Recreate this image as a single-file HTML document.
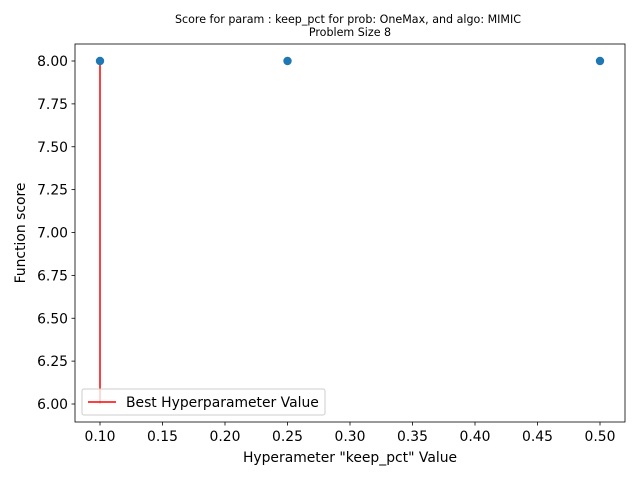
<!DOCTYPE html>
<html><head><meta charset="utf-8"><style>
body{margin:0;background:#fff;}
svg text{font-family:"DejaVu Sans","Liberation Sans",sans-serif;fill:#000;}
</style></head><body>
<svg width="640" height="480" xmlns="http://www.w3.org/2000/svg">
<g id="root"></g>
</svg>
<script>
const xValues=[0.10,0.25,0.50];
const yValues=[8,8,8];
const xTicks=[0.10,0.15,0.20,0.25,0.30,0.35,0.40,0.45,0.50];
const yTicks=[6.00,6.25,6.50,6.75,7.00,7.25,7.50,7.75,8.00];
const bestX=0.10, bestYmin=6, bestYmax=8;
const L=75,R=625,T=44,B=422;
const X=v=>100+(v-0.10)*1250;
const Y=v=>404-(v-6)*171.5;
const root=document.getElementById('root');
const NS='http://www.w3.org/2000/svg';
function mk(tag,attrs,parent){const e=document.createElementNS(NS,tag);for(const k in attrs)e.setAttribute(k,attrs[k]);(parent||root).appendChild(e);return e;}
xTicks.forEach(t=>{
 const g=mk('g',{});
 
 
 mk('line',{x1:X(t),x2:X(t),y1:B,y2:B+3.5,stroke:'#000','stroke-width':0.8},g);
 const tx=mk('text',{x:X(t),y:B+19,'text-anchor':'middle','font-size':13.9},g);tx.textContent=t.toFixed(2);
});
yTicks.forEach(t=>{
 const g=mk('g',{});
 
 
 mk('line',{x1:L-3.5,x2:L,y1:Y(t),y2:Y(t),stroke:'#000','stroke-width':0.8},g);
 const tx=mk('text',{x:L-7,y:Y(t)+5,'text-anchor':'end','font-size':13.9},g);tx.textContent=t.toFixed(2);
});
const bl=mk('line',{x1:X(bestX),x2:X(bestX),y1:Y(bestYmin),y2:Y(bestYmax),stroke:'red','stroke-width':1.5});


xValues.forEach((v,i)=>{
 const c=mk('circle',{cx:X(v),cy:Y(yValues[i]),r:4.2,fill:'#1f77b4'});
 
 
});
const fr=mk('rect',{x:L,y:T,width:R-L,height:B-T,fill:'none',stroke:'#000','stroke-width':0.8});


const lg=mk('g',{});


mk('rect',{x:82,y:389,width:243,height:26,rx:2,fill:'#fff','fill-opacity':0.8,stroke:'#ccc'},lg);
mk('line',{x1:88,x2:116,y1:402,y2:402,stroke:'red','stroke-width':1.5},lg);
const lt=mk('text',{x:126,y:407,'font-size':13.9},lg);lt.textContent='Best Hyperparameter Value';
const t1=mk('text',{x:348,y:23,'text-anchor':'middle','font-size':11.1});t1.textContent='Score for param : keep_pct for prob: OneMax, and algo: MIMIC';

const t2=mk('text',{x:350,y:36,'text-anchor':'middle','font-size':11.1});t2.textContent='Problem Size 8';

const xl=mk('text',{x:350,y:462,'text-anchor':'middle','font-size':13.9});xl.textContent='Hyperameter "keep_pct" Value';

const yl=mk('text',{x:0,y:0,'text-anchor':'middle','font-size':13.9,transform:'translate(25,233) rotate(-90)'});yl.textContent='Function score';

</script>
</body></html>
